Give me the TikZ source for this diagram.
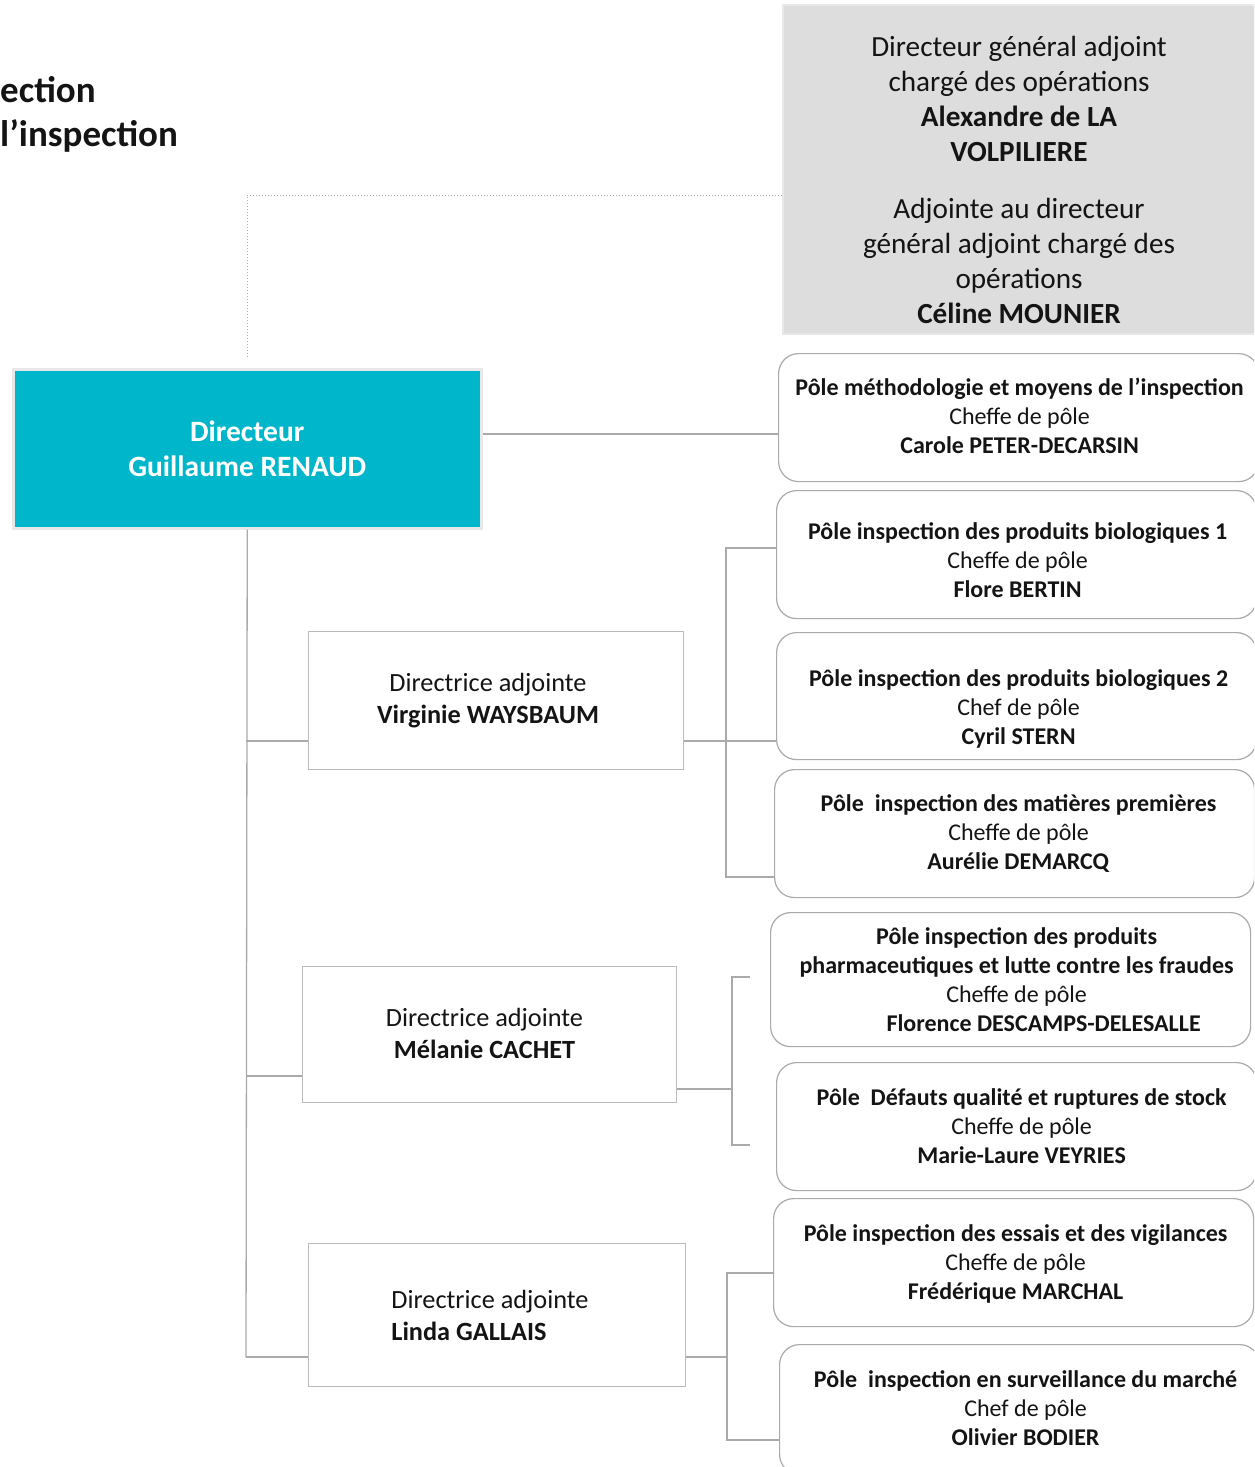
\documentclass[tikz,border=0pt]{standalone}
\usepackage{fontspec}
\setmainfont{Carlito}
\usepackage{tikz}
\usetikzlibrary{positioning, calc}
\definecolor{dirblue}{RGB}{0, 182, 202}
\definecolor{grisfond}{RGB}{221, 221, 221}
\definecolor{grisbord}{RGB}{232, 232, 232}
\definecolor{trait}{RGB}{170, 170, 170}
\definecolor{texte}{RGB}{20, 20, 20}

\begin{document}
\begin{tikzpicture}[
    x=1pt, y=-1pt,
    titre/.style={anchor=base west, inner sep=0pt, font=\fontsize{37}{46}\selectfont\bfseries, text=texte},
    grisbox/.style={rectangle, draw=grisbord, line width=2pt, fill=grisfond, anchor=north west, inner sep=0pt},
    gristxt/.style={inner sep=0pt, align=center, text=texte, font=\fontsize{29.2}{35}\selectfont},
    dirbox/.style={rectangle, draw=grisbord, line width=2.5pt, fill=dirblue, anchor=north west, inner sep=0pt, align=center, text=white, font=\fontsize{29.5}{35}\selectfont\bfseries},
    dabox/.style={rectangle, draw=trait!80, line width=1pt, anchor=north west, inner sep=0pt},
    datxt/.style={inner sep=0pt, align=center, text=texte, font=\fontsize{26.3}{32}\selectfont},
    polebox/.style={rectangle, rounded corners=20pt, draw=trait, line width=1.2pt, anchor=north west, inner sep=0pt, minimum width=480pt},
    poletxt/.style={inner sep=0pt, align=center, text=texte, font=\fontsize{24}{29}\selectfont},
    link/.style={draw=trait, line width=2pt},
    fin/.style={draw=trait, line width=1.3pt},
    guide/.style={draw=trait, line width=1pt, dotted}
]
    \useasboundingbox (0,0) rectangle (1254,1467);
    \clip (0,0) rectangle (1254,1467);

    % titre (coupe a gauche)
    \node[titre] (titre1) at (0,102) {ection};
    \node[titre] (titre2) at (0,146) {l’inspection};

    % direction generale
    \node[grisbox, minimum width=472pt, minimum height=329pt] (gris) at (782,4) {};
    \node[gristxt] (gristxt) at ($(gris.center)+(0,10)$) {%
        Directeur général adjoint\\ chargé des opérations\\ \textbf{Alexandre de LA}\\ \textbf{VOLPILIERE}\\[22pt]
        Adjointe au directeur\\ général adjoint chargé des\\ opérations\\ \textbf{Céline MOUNIER}};

    \node[dirbox, minimum width=468pt, minimum height=159pt] (dir) at (12,368) {Directeur\\ Guillaume RENAUD};

    % directrices adjointes
    \node[dabox, minimum width=375pt, minimum height=138pt] (da1) at (308,631) {};
    \node[datxt] (da1txt) at ($(da1.center)+(-8,0)$) {Directrice adjointe\\ \textbf{Virginie WAYSBAUM}};
    \node[dabox, minimum width=374pt, minimum height=136pt] (da2) at (302,966) {};
    \node[datxt] (da2txt) at ($(da2.center)+(-5,-1)$) {Directrice adjointe\\ \textbf{Mélanie CACHET}};
    \node[dabox, minimum width=377pt, minimum height=143pt] (da3) at (308,1243) {};
    \node[datxt, align=left] (da3txt) at ($(da3.center)+(-7,0)$) {Directrice adjointe\\ \textbf{Linda GALLAIS}};

    % poles
    \node[polebox, minimum height=128pt] (p1) at (778,353) {};
    \node[poletxt] (p1txt) at ($(p1.center)+(1,-2)$) {\textbf{Pôle méthodologie et moyens de l’inspection}\\ Cheffe de pôle\\ \textbf{Carole PETER-DECARSIN}};
    \node[polebox, minimum height=128pt] (p2) at (776,490) {};
    \node[poletxt] (p2txt) at ($(p2.center)+(1,6)$) {\textbf{Pôle inspection des produits biologiques 1}\\ Cheffe de pôle\\ \textbf{Flore BERTIN}};
    \node[polebox, minimum height=127pt] (p3) at (776,632) {};
    \node[poletxt] (p3txt) at ($(p3.center)+(2,13)$) {\textbf{Pôle inspection des produits biologiques 2}\\ Chef de pôle\\ \textbf{Cyril STERN}};
    \node[polebox, minimum height=128pt] (p4) at (774,769) {};
    \node[poletxt] (p4txt) at ($(p4.center)+(4,0)$) {\textbf{Pôle\ \ inspection des matières premières}\\ Cheffe de pôle\\ \textbf{Aurélie DEMARCQ}};
    \node[polebox, minimum height=134pt] (p5) at (770,912) {};
    \node[poletxt] (p5txt) at ($(p5.center)+(6,0)$) {\textbf{Pôle inspection des produits}\\ \textbf{pharmaceutiques et lutte contre les fraudes}\\ Cheffe de pôle\\ \hspace*{54pt}\textbf{Florence DESCAMPS-DELESALLE}};
    \node[polebox, minimum height=128pt] (p6) at (776,1062) {};
    \node[poletxt] (p6txt) at ($(p6.center)+(5,0)$) {\textbf{Pôle\ \ Défauts qualité et ruptures de stock}\\ Cheffe de pôle\\ \textbf{Marie-Laure VEYRIES}};
    \node[polebox, minimum height=128pt] (p7) at (773,1198) {};
    \node[poletxt] (p7txt) at ($(p7.center)+(2,1)$) {\textbf{Pôle inspection des essais et des vigilances}\\ Cheffe de pôle\\ \textbf{Frédérique MARCHAL}};
    \node[polebox, minimum height=130pt] (p8) at (779,1344) {};
    \node[poletxt] (p8txt) at ($(p8.center)+(6,-1)$) {\textbf{Pôle\ \ inspection en surveillance du marché}\\ Chef de pôle\\ \textbf{Olivier BODIER}};

    % points de raccord
    \coordinate (c1) at (248,195);
    \coordinate (b1) at (246,741);
    \coordinate (b2) at (246,1076);
    \coordinate (b3) at (246,1357);
    \coordinate (v1) at (726,741);
    \coordinate (h1) at (726,548);
    \coordinate (k1) at (726,877);
    \coordinate (v2) at (732,1089);
    \coordinate (h2) at (732,977);
    \coordinate (k2) at (732,1145);
    \coordinate (v3) at (727,1357);
    \coordinate (h3) at (727,1273);
    \coordinate (k3) at (727,1440);

    % liens
    \draw[guide] ([yshift=11pt]dir.north) -- (dir.north |- c1) -- (c1 -| gris.west);
    \draw[link] ([yshift=14.5pt]dir.east) -- ([yshift=14.5pt]dir.east -| p1.west);
    \draw[fin] (dir.south) -- (b3);
    \draw[fin] (b1) -- (b1 -| da1.west);
    \draw[fin] (b2) -- (b2 -| da2.west);
    \draw[fin] (b3) -- (b3 -| da3.west);

    \draw[link] (da1.east |- v1) -- (p3.west |- v1);
    \draw[link] (p2.west |- h1) -- (h1) -- (k1) -- (p4.west |- k1);

    \draw[link] (da2.east |- v2) -- (v2);
    \draw[link] ([xshift=18pt]h2) -- (h2) -- (k2) -- ([xshift=18pt]k2);

    \draw[fin] (da3.east |- v3) -- (v3);
    \draw[fin] (p7.west |- h3) -- (h3) -- (k3) -- (p8.west |- k3);
\end{tikzpicture}
\end{document}
